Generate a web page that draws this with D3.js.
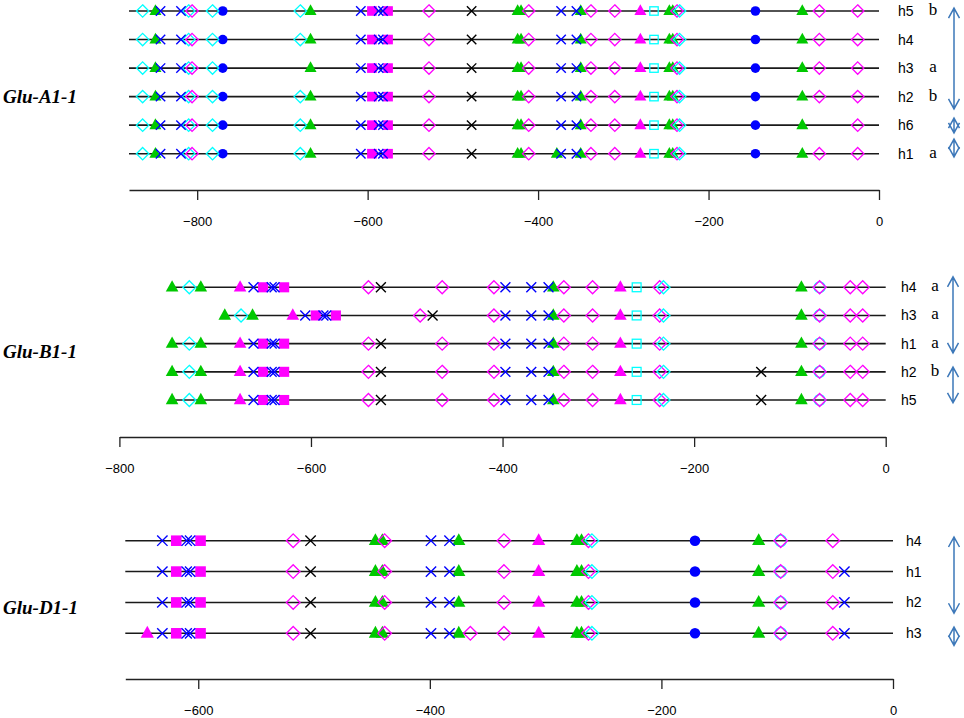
<!DOCTYPE html>
<html>
<head>
<meta charset="utf-8">
<script src="https://cdn.jsdelivr.net/npm/d3@7"></script>
<style>
  body { margin: 0; background: #fff; }
</style>
</head>
<body>
<div id="chart"></div>
<script>
// ---- Glu-A1-1 ----
const aRows = ["h5", "h4", "h3", "h2", "h6", "h1"];
const aLetters = ["b", "", "a", "b", "", "a"];
const aSites = [
  ["diaC", -864], ["tri", -849], ["x", -843], ["x", -819], ["diaC", -810], ["dia", -806],
  ["diaC", -782], ["dot", -770], ["diaC", -679], ["tri", -667], ["x", -608], ["sq", -595],
  ["x", -587], ["x", -582], ["sq", -576], ["dia", -528], ["xK", -478], ["tri", -424],
  ["tri", -420], ["dia", -411], ["x", -373], ["x", -355], ["tri", -350], ["dia", -338],
  ["dia", -310], ["triM", -280], ["sqC", -264], ["tri", -246], ["tri", -242], ["dia", -237],
  ["diaC", -234], ["dot", -145], ["tri", -90], ["dia", -70], ["dia", -25]
];
const aOmit = [["h3", -679], ["h6", -70]];
const aAdd = [["h1", "tri", -378]];
const aTicks = [-800, -600, -400, -200, 0];
const aArrows = [[-0.1, 3.43], [3.75, 4.27], [4.49, 5.11]];   // in row units

// ---- Glu-B1-1 ----
const bRows = ["h4", "h3", "h1", "h2", "h5"];
const bLetters = ["a", "a", "a", "b", ""];
const bStart = [-748, -693, -748, -748, -748];
const bLeft = [
  ["tri", -745], ["diaC", -727], ["tri", -715], ["triM", -674], ["x", -660], ["sq", -650],
  ["x", -641], ["x", -638], ["sq", -628], ["dia", -540], ["xK", -527], ["dia", -463]
];
const bLeftH3 = [
  ["tri", -690], ["diaC", -673], ["tri", -661], ["triM", -619], ["x", -606], ["sq", -595],
  ["x", -587], ["x", -584], ["sq", -574], ["dia", -486], ["xK", -473]
];
const bRight = [
  ["dia", -409], ["x", -397], ["x", -370], ["x", -352], ["tri", -347], ["dia", -336],
  ["dia", -306], ["triM", -277], ["sqC", -260], ["dia", -236], ["diaC", -232], ["tri", -88],
  ["cirC", -69], ["dia", -69], ["dia", -37], ["dia", -24]
];
const bAdd = [["h2", "xK", -130], ["h5", "xK", -130]];
const bTicks = [-800, -600, -400, -200, 0];
const bArrows = [[-0.37, 2.33], [2.83, 4.1]];

// ---- Glu-D1-1 ----
const dRows = ["h4", "h1", "h2", "h3"];
const dSites = [
  ["x", -631], ["sq", -619], ["x", -610], ["x", -607], ["sq", -598], ["dia", -518],
  ["xK", -503], ["tri", -447], ["tri", -441], ["dia", -439], ["x", -399], ["x", -383],
  ["tri", -375], ["dia", -336], ["triM", -306], ["tri", -273], ["tri", -269], ["dia", -263],
  ["diaC", -260], ["dot", -171], ["tri", -116], ["cirC", -97], ["dia", -97], ["dia", -52]
];
const dAdd = [["h1", "x", -42], ["h2", "x", -42], ["h3", "x", -42], ["h3", "triM", -644], ["h3", "dia", -365]];
const dTicks = [-600, -400, -200, 0];
const dArrows = [[-0.12, 2.35], [2.8, 3.39]];

const width = 964, height = 718;
const colors = { green: "#00c800", magenta: "#ff00ff", cyan: "#00ffff", blue: "#0000ff", arrow: "#3d78b9" };

const svg = d3.select("#chart").append("svg")
    .attr("width", width)
    .attr("height", height);

// draw order: filled marks, then open ones, then crosses
const layer = { tri: 0, triM: 0, sq: 0, dot: 0, dia: 1, diaC: 1, cirC: 1, sqC: 1, x: 2, xK: 2 };

function drawMark(g, type, cx, cy, s) {
  const t = 6 * s, d = 6.2 * s, q = 4.8 * s, c = 4.8 * s, k = 4.7 * s;
  switch (type) {
    case "tri":
    case "triM":
      g.append("path")
          .attr("d", `M${cx},${cy - 6.8 * s}L${cx + t},${cy + 4 * s}L${cx - t},${cy + 4 * s}Z`)
          .attr("fill", type === "tri" ? colors.green : colors.magenta);
      break;
    case "dia":
    case "diaC":
      g.append("path")
          .attr("d", `M${cx},${cy - d}L${cx + d},${cy}L${cx},${cy + d}L${cx - d},${cy}Z`)
          .attr("fill", "none")
          .attr("stroke", type === "dia" ? colors.magenta : colors.cyan)
          .attr("stroke-width", 1.3);
      break;
    case "cirC":
      g.append("circle").attr("cx", cx).attr("cy", cy).attr("r", 5.2 * s)
          .attr("fill", "none").attr("stroke", colors.cyan).attr("stroke-width", 1.3);
      break;
    case "sq":
      g.append("rect").attr("x", cx - q).attr("y", cy - q).attr("width", 2 * q).attr("height", 2 * q)
          .attr("fill", colors.magenta);
      break;
    case "sqC":
      g.append("rect").attr("x", cx - 4.2 * s).attr("y", cy - 4.2 * s).attr("width", 8.4 * s).attr("height", 8.4 * s)
          .attr("fill", "none").attr("stroke", colors.cyan).attr("stroke-width", 1.3);
      break;
    case "dot":
      g.append("circle").attr("cx", cx).attr("cy", cy).attr("r", c).attr("fill", colors.blue);
      break;
    case "x":
    case "xK":
      g.append("path")
          .attr("d", `M${cx - k},${cy - k}L${cx + k},${cy + k}M${cx - k},${cy + k}L${cx + k},${cy - k}`)
          .attr("stroke", type === "x" ? colors.blue : "#000")
          .attr("stroke-width", 1.4);
      break;
  }
}

function drawArrow(g, x, y0, y1) {
  const hw = 5.5, hl = 10;
  g.append("path")
      .attr("d", `M${x},${y0}L${x},${y1}` +
                 `M${x - hw},${y0 + hl}L${x},${y0}L${x + hw},${y0 + hl}` +
                 `M${x - hw},${y1 - hl}L${x},${y1}L${x + hw},${y1 - hl}`)
      .attr("fill", "none")
      .attr("stroke", colors.arrow)
      .attr("stroke-width", 1.5);
}

function drawPanel(p) {
  const g = svg.append("g");
  const x = d3.scaleLinear().domain(p.domain).range(p.range);
  const y = d3.scaleLinear().domain([0, p.rows.length - 1]).range(p.yRange);

  // axis
  g.append("g")
      .attr("transform", `translate(0,${p.axisY})`)
      .call(d3.axisBottom(x).tickValues(p.ticks).tickSize(10).tickSizeOuter(0).tickPadding(17))
      .call(a => a.selectAll("path, line").attr("stroke", "#222").attr("stroke-width", 1.3))
      .call(a => a.selectAll("text")
          .attr("font-family", "Liberation Sans, Arial, sans-serif")
          .attr("font-size", 13)
          .attr("fill", "#000"));

  p.rows.forEach((row, i) => {
    const yy = y(i);
    g.append("line")
        .attr("x1", x(p.starts ? p.starts[i] : p.domain[0]))
        .attr("x2", x(0))
        .attr("y1", yy).attr("y2", yy)
        .attr("stroke", "#1a1a1a")
        .attr("stroke-width", 1.6);

    const marks = p.sitesFor(row)
        .filter(([t, v]) => !p.omit.some(([r, ov]) => r === row && ov === v))
        .concat(p.add.filter(a => a[0] === row).map(a => [a[1], a[2]]))
        .sort((m1, m2) => layer[m1[0]] - layer[m2[0]]);
    marks.forEach(([t, v]) => drawMark(g, t, x(v), yy, p.size));

    g.append("text")
        .attr("x", p.labelX).attr("y", yy + 5)
        .attr("font-family", "Liberation Sans, Arial, sans-serif")
        .attr("font-size", 14)
        .text(row);
    if (p.letters && p.letters[i]) {
      g.append("text")
          .attr("x", p.letterX).attr("y", yy + 4)
          .attr("text-anchor", "middle")
          .attr("font-family", "Liberation Serif, Times New Roman, serif")
          .attr("font-size", 17)
          .text(p.letters[i]);
    }
  });

  p.arrows.forEach(([r0, r1]) => drawArrow(g, p.arrowX, y(r0), y(r1)));

  g.append("text")
      .attr("x", 3).attr("y", p.titleY)
      .attr("font-family", "Liberation Serif, Times New Roman, serif")
      .attr("font-weight", "bold")
      .attr("font-style", "italic")
      .attr("font-size", 19)
      .text(p.title);
}

drawPanel({
  title: "Glu-A1-1", titleY: 103,
  rows: aRows, letters: aLetters, sitesFor: () => aSites, omit: aOmit, add: aAdd,
  domain: [-880, 0], range: [129, 879], yRange: [11, 153.7], axisY: 190, ticks: aTicks,
  size: 1, labelX: 898, letterX: 933, arrowX: 954, arrows: aArrows
});

drawPanel({
  title: "Glu-B1-1", titleY: 358,
  rows: bRows, letters: bLetters, starts: bStart,
  sitesFor: row => (row === "h3" ? bLeftH3 : bLeft).concat(bRight), omit: [], add: bAdd,
  domain: [-800, 0], range: [119.4, 885.7], yRange: [287.3, 400], axisY: 437, ticks: bTicks,
  size: 1.05, labelX: 901, letterX: 935, arrowX: 953, arrows: bArrows
});

drawPanel({
  title: "Glu-D1-1", titleY: 614,
  rows: dRows, sitesFor: () => dSites, omit: [], add: dAdd,
  domain: [-663, 0], range: [125.3, 893], yRange: [540.7, 633.3], axisY: 679, ticks: dTicks,
  size: 1.1, labelX: 906, arrowX: 954, arrows: dArrows
});
</script>
</body>
</html>
